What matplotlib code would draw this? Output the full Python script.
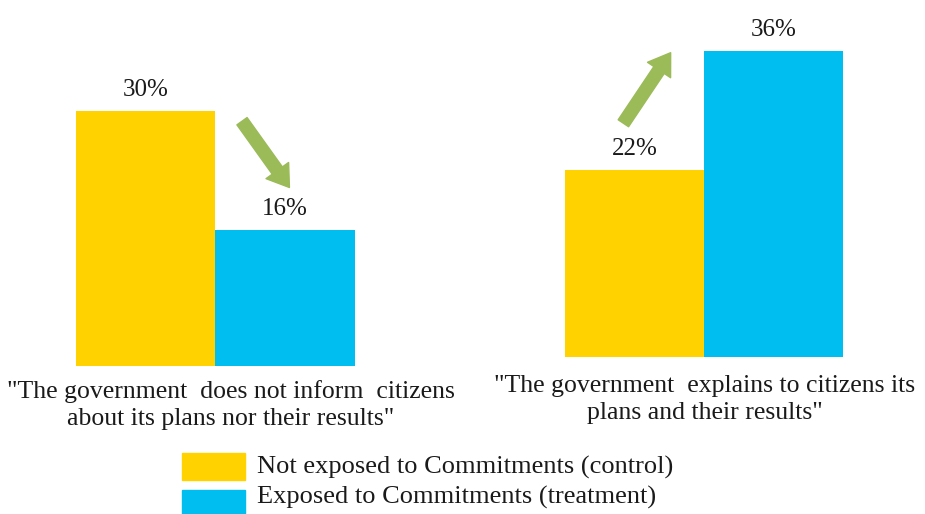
import matplotlib.pyplot as plt
from matplotlib.patches import Rectangle

plt.rcParams['font.family'] = ['Liberation Serif', 'DejaVu Serif']

# Survey shares (%) for each statement
groups = ['"The government  does not inform  citizens\nabout its plans nor their results"',
          '"The government  explains to citizens its\nplans and their results"']
control = [30, 22]
treatment = [16, 36]
series_names = ['Not exposed to Commitments (control)',
                'Exposed to Commitments (treatment)']

YELLOW = '#FFD200'
BLUE = '#00BEF0'
GREEN = '#9BBB59'
INK = '#1a1a1a'

W, H = 925, 514
fig = plt.figure(figsize=(W / 100, H / 100), dpi=100)

PX_PER_PCT = 8.5
YMAX = 40


def panel(left_px, base_px, width_px):
    """Axes whose y-axis starts at the given baseline (pixels from top)."""
    height_px = YMAX * PX_PER_PCT
    ax = fig.add_axes([left_px / W, (H - base_px) / H,
                       width_px / W, height_px / H])
    ax.set_xlim(0, 2)
    ax.set_ylim(0, YMAX)
    ax.axis('off')
    return ax


axes = [panel(76, 366, 279), panel(565, 357, 278)]

for i, ax in enumerate(axes):
    vals = [control[i], treatment[i]]
    bars = ax.bar([0, 1], vals, width=1, align='edge',
                  color=[YELLOW, BLUE], clip_on=False)
    for b, v in zip(bars, vals):
        ax.annotate(f'{v}%', (b.get_x() + 0.5, v), xytext=(0, 11),
                    textcoords='offset points', ha='center', va='baseline',
                    fontsize=18, color=INK)

    # arrow showing the direction of change between the two bars
    if treatment[i] < control[i]:
        tail, tip = (1.19, 28.8), (1.53, 21.0)
    else:
        tail, tip = (0.42, 27.5), (0.76, 35.8)
    ax.annotate('', xy=tip, xytext=tail,
                arrowprops=dict(arrowstyle='simple,head_length=0.75,'
                                           'head_width=1.0,tail_width=0.45',
                                mutation_scale=20, color=GREEN,
                                shrinkA=0, shrinkB=0), annotation_clip=False)

# category labels under each pair of bars
fig.text(231 / W, 1 - 380 / H, groups[0], ha='center', va='top',
         fontsize=18.5, linespacing=1.3, color=INK)
fig.text(705 / W, 1 - 375 / H, groups[1], ha='center', va='top',
         fontsize=18.5, linespacing=1.3, color=INK)

# legend drawn as swatches plus text
for j, (name, col) in enumerate(zip(series_names, [YELLOW, BLUE])):
    y_top = 453 + j * 37
    fig.add_artist(Rectangle((182 / W, 1 - (y_top + 27) / H), 63 / W, 27 / H,
                             transform=fig.transFigure, color=col))
    fig.text(257 / W, 1 - (467 + j * 30) / H, name, ha='left', va='center',
             fontsize=19, color=INK)

fig.savefig('out.png', dpi=100)
